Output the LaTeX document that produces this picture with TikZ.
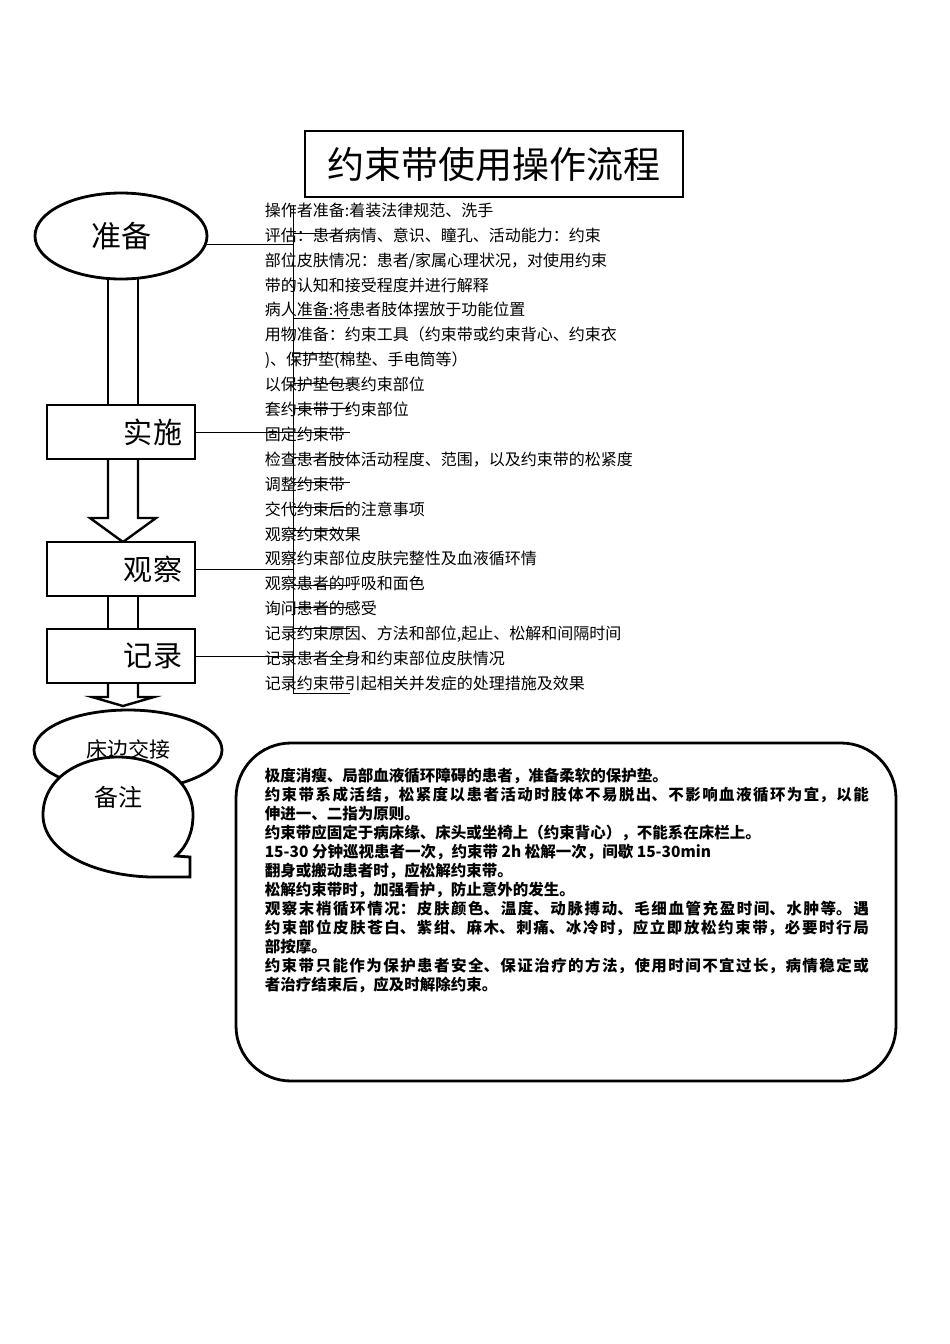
\documentclass[tikz,border=0pt]{standalone}
\usepackage{fontspec}
\setmainfont{Noto Sans CJK SC}
\XeTeXlinebreaklocale "zh"
\XeTeXlinebreakskip=0pt plus 1pt
\usetikzlibrary{shapes.geometric}
\begin{document}
\begin{tikzpicture}[x=1pt,y=1pt,line width=1.6pt,
  stage/.style={draw,line width=2.8pt,fill=white,minimum width=148pt,minimum height=54pt,font=\fontsize{29}{31}\selectfont,align=right,text width=124pt,inner sep=4pt},
  oval/.style={draw,line width=2.8pt,fill=white,ellipse,inner sep=0pt},
  thin/.style={line width=0.8pt}]
\useasboundingbox (0,0) rectangle (950,-1344);
% title
\node[draw,line width=2.8pt,minimum width=378pt,minimum height=66pt,font=\fontsize{37}{39}\selectfont] (title) at (494,-164) {约束带使用操作流程};
% shafts behind
\draw[line width=2.4pt] (108,-275) -- (108,-410) (138,-275) -- (138,-410);
% arrow shi->guan
\draw[line width=2.4pt,fill=white] (108,-456) -- (108,-518) -- (90,-518) -- (123,-542) -- (156,-518) -- (138,-518) -- (138,-456);
\draw[line width=2.4pt,fill=white] (108,-596) rectangle (138,-632);
\draw[line width=2.4pt,fill=white] (108,-680) -- (108,-697) -- (92,-697) -- (123,-706) -- (154,-697) -- (138,-697) -- (138,-680);
% nodes
\node[oval,minimum width=172pt,minimum height=86pt,font=\fontsize{30}{32}\selectfont] (prep) at (121,-236) {准备};
\node[stage] (impl) at (121,-432) {实施};
\node[stage] (obs) at (121,-569) {观察};
\node[stage] (rec) at (121,-656) {记录};
\node[oval,minimum width=188pt,minimum height=80pt] (bed) at (128,-750) {};
\node[font=\fontsize{21}{23}\selectfont] (bedt) at (128,-749) {床边交接};
% callout 备注
\draw[line width=2.8pt,fill=white] (176,-856) -- (190,-857) -- (190,-877) -- (150,-877)
  .. controls (90,-875) and (43,-850) .. (43,-815)
  .. controls (43,-778) and (80,-757) .. (118,-757)
  .. controls (160,-757) and (193,-782) .. (193,-815)
  .. controls (193,-832) and (187,-846) .. (176,-856) -- cycle;
\node[font=\fontsize{24}{26}\selectfont] (note) at (118,-797) {备注};
% list text
\node[anchor=north west,inner sep=0pt,align=left,font=\fontsize{16}{24.9}\selectfont] (list) at (264,-202) {操作者准备:着装法律规范、洗手\\评估：患者病情、意识、瞳孔、活动能力：约束\\部位皮肤情况：患者/家属心理状况，对使用约束\\带的认知和接受程度并进行解释\\病人准备:将患者肢体摆放于功能位置\\用物准备：约束工具（约束带或约束背心、约束衣\\)、保护垫(棉垫、手电筒等）\\以保护垫包裹约束部位\\套约束带于约束部位\\固定约束带\\检查患者肢体活动程度、范围，以及约束带的松紧度\\调整约束带\\交代约束后的注意事项\\观察约束效果\\观察约束部位皮肤完整性及血液循环情\\观察患者的呼吸和面色\\询问患者的感受\\记录约束原因、方法和部位,起止、松解和间隔时间\\记录患者全身和约束部位皮肤情况\\记录约束带引起相关并发症的处理措施及效果};
% bracket lines
\coordinate (top) at (293,-205);
\coordinate (bot) at (293,-693);
\draw[thin] (top) -- (bot);
\draw[thin] (207,-244) -- (293,-244);
\draw[thin] (impl.east) -- (350,-432);
\draw[thin] (obs.east) -- (293,-569);
\draw[thin] (rec.east) -- (350,-656);
\foreach \y in {233,318,353,383,408,457,482,507,530,585,607,628,693}
  \draw[thin] (293,-\y) -- (350,-\y);
% notes box
\node[draw,line width=2.8pt,rounded corners=55pt,minimum width=660pt,minimum height=338pt] (box) at (566,-912) {};
\node[anchor=north west,inner sep=0pt,text width=604pt,align=justify,font=\bfseries\fontsize{15.5}{19}\selectfont] (notes) at (264,-767) {极度消瘦、局部血液循环障碍的患者，准备柔软的保护垫。\par
约束带系成活结，松紧度以患者活动时肢体不易脱出、不影响血液循环为宜，以能\linebreak 伸进一、二指为原则。\par
约束带应固定于病床缘、床头或坐椅上（约束背心），不能系在床栏上。\par
15-30 分钟巡视患者一次，约束带 2h 松解一次，间歇 15-30min\par
翻身或搬动患者时，应松解约束带。\par
松解约束带时，加强看护，防止意外的发生。\par
观察末梢循环情况：皮肤颜色、温度、动脉搏动、毛细血管充盈时间、水肿等。遇\linebreak 约束部位皮肤苍白、紫绀、麻木、刺痛、冰冷时，应立即放松约束带，必要时行局\linebreak 部按摩。\par
约束带只能作为保护患者安全、保证治疗的方法，使用时间不宜过长，病情稳定或\linebreak 者治疗结束后，应及时解除约束。};
\end{tikzpicture}
\end{document}
